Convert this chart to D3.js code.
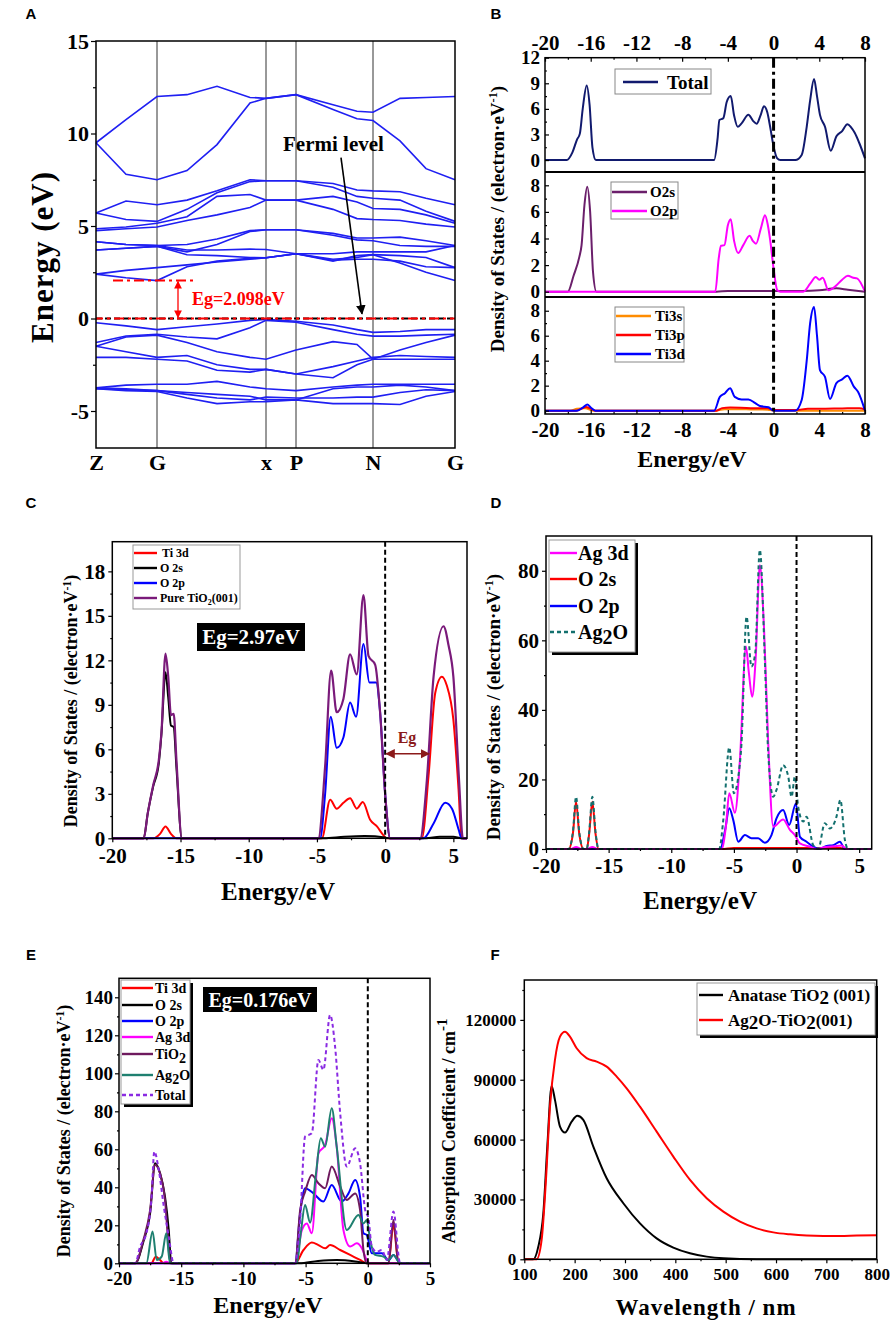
<!DOCTYPE html>
<html><head><meta charset="utf-8">
<script src="https://cdn.jsdelivr.net/npm/d3@7"></script>
<style>body{margin:0;background:#fff}svg{display:block}</style>
</head><body><svg id="c" width="893" height="1324"></svg>
<script>
// ---------------- DATA ----------------
// Panel A: band structure
const aK = [0, 30, 61, 91, 121, 154, 170, 200, 237, 261, 277, 304, 330, 359];
const aSymK = [0, 61, 170, 200, 277, 359];
const aSymLabels = ["Z", "G", "x", "P", "N", "G"];
const aTicks = [-5, 0, 5, 10, 15];
const aMinor = [-2.5, 2.5, 7.5, 12.5];
const aBandsCB = [
  [9.5, 10.75, 12.0, 12.1, 12.55, 11.95, 11.9, 12.1, 11.55, 11.2, 11.15, 11.9, 11.95, 12.0],
  [9.5, 7.8, 7.5, 8.0, 9.4, 11.65, 11.9, 12.1, 11.3, 10.8, 10.7, 9.6, 8.1, 7.5],
  [5.7, 6.35, 6.15, 6.4, 6.9, 7.5, 7.45, 7.45, 7.3, 6.95, 6.9, 6.85, 6.5, 6.15],
  [5.7, 5.35, 5.25, 5.9, 6.8, 7.4, 7.45, 7.45, 7.1, 6.6, 6.5, 6.4, 5.8, 5.25],
  [4.85, 4.95, 5.15, 5.5, 6.6, 6.7, 6.4, 6.4, 6.6, 6.3, 5.95, 5.9, 5.6, 5.15],
  [4.75, 4.85, 4.95, 5.3, 5.6, 6.0, 6.4, 6.4, 5.9, 5.4, 5.35, 5.3, 5.1, 4.95],
  [4.15, 4.0, 3.95, 4.0, 4.3, 4.75, 4.8, 4.8, 4.6, 4.35, 4.35, 4.4, 4.2, 3.95],
  [3.7, 3.8, 3.9, 3.6, 4.0, 4.7, 4.8, 4.8, 4.5, 4.25, 4.2, 3.95, 3.9, 3.9],
  [4.15, 4.0, 3.95, 3.7, 3.7, 3.75, 3.73, 3.5, 3.5, 3.6, 3.6, 3.6, 3.6, 3.95],
  [3.7, 3.8, 3.9, 3.45, 3.4, 3.3, 3.28, 3.5, 3.1, 3.4, 3.45, 3.4, 3.3, 2.75],
  [2.4, 2.6, 2.75, 2.9, 3.05, 3.2, 3.28, 3.5, 3.15, 3.2, 3.2, 3.1, 2.8, 2.75],
  [2.4, 2.2, 2.05, 2.8, 3.1, 3.25, 3.28, 3.5, 3.2, 3.3, 3.45, 3.0, 2.5, 2.05]
];
const aBandsVB = [
  [-0.23, -0.4, -0.6, -0.45, -0.3, -0.1, -0.05, -0.15, -0.35, -0.6, -0.75, -0.7, -0.6, -0.6],
  [-1.3, -0.95, -0.85, -1.0, -1.1, -0.5, -0.1, -0.2, -0.6, -0.85, -0.95, -0.95, -0.9, -0.85],
  [-1.5, -1.0, -0.9, -1.3, -1.8, -2.1, -2.2, -1.7, -1.25, -1.4, -2.2, -1.7, -1.3, -0.9],
  [-1.5, -1.8, -2.1, -2.0, -2.5, -2.75, -2.75, -3.0, -2.6, -2.3, -2.1, -2.0, -2.05, -2.1],
  [-2.1, -2.1, -2.2, -2.3, -2.8, -2.9, -2.75, -3.0, -3.2, -2.5, -2.2, -2.2, -2.2, -2.2],
  [-3.75, -3.6, -3.55, -3.55, -3.4, -3.7, -3.8, -3.9, -3.7, -3.6, -3.55, -3.55, -3.55, -3.55],
  [-3.8, -3.85, -3.9, -4.1, -4.3, -4.4, -4.25, -4.3, -4.3, -4.25, -4.25, -4.0, -3.85, -3.9],
  [-3.8, -3.9, -3.95, -4.3, -4.6, -4.5, -4.5, -4.4, -4.6, -4.6, -4.6, -4.65, -4.2, -3.95],
  [-3.75, -3.8, -3.9, -4.0, -4.1, -4.2, -4.4, -4.4, -3.8, -3.7, -3.7, -3.6, -3.7, -3.9]
];
const aEgValue = 2.05;
const aEgSpanK = [17, 99];
const aEgArrowK = 82;
const aFermiArrow = [[245, 8.7], [266, 0.25]];

// Panel B: DOS (three stacked)
const bXTicks = [-20, -16, -12, -8, -4, 0, 4, 8];
const bXMinor = [-18, -14, -10, -6, -2, 2, 6];
const bY1Ticks = [0, 3, 6, 9, 12];
const bY1Minor = [1.5, 4.5, 7.5, 10.5];
const bY23Ticks = [0, 2, 4, 6, 8];
const bY23Minor = [1, 3, 5, 7];
const bTotal = [[-20,0],[-18.1,0],[-17.6,0.9],[-17.2,2.4],[-16.95,3.1],[-16.7,6.0],[-16.35,8.75],[-16.1,6.5],[-15.85,1.5],[-15.55,0],[-5.2,0],[-4.9,2.5],[-4.74,4.7],[-4.4,4.9],[-4.1,6.8],[-3.75,7.5],[-3.45,5.2],[-3.14,3.9],[-2.8,4.3],[-2.2,5.3],[-1.8,4.6],[-1.48,4.25],[-1.15,5.2],[-0.84,6.3],[-0.55,5.6],[-0.3,3.9],[0,1.6],[0.3,0.23],[0.6,0],[1.9,0],[2.46,0.6],[2.9,3.9],[3.2,7.0],[3.54,9.5],[3.8,7.5],[4.06,5.3],[4.5,3.9],[5.0,1.1],[5.5,2.8],[6.0,3.4],[6.46,4.2],[6.8,3.8],[7.1,3.2],[7.5,2.0],[8,0.2]];
const bO2s = [[-20,0],[-18.0,0],[-17.5,1.2],[-17.0,2.6],[-16.8,3.5],[-16.55,6.5],[-16.3,7.9],[-16.05,6.0],[-15.8,1.5],[-15.5,0],[-5,0],[-4,0.05],[0,0.05],[2.5,0.05],[4,0.1],[5.5,0.25],[6.5,0.15],[8,0]];
const bO2p = [[-20,0],[-5.1,0],[-4.8,2.5],[-4.6,3.45],[-4.3,3.5],[-4.0,5.0],[-3.75,5.45],[-3.45,3.8],[-3.1,2.9],[-2.65,3.5],[-2.1,4.2],[-1.8,3.8],[-1.54,3.6],[-1.1,4.8],[-0.75,5.75],[-0.5,5.0],[-0.3,3.9],[0,1.75],[0.33,0.1],[0.6,0],[2.6,0],[3.2,0.6],[3.7,1.1],[4.0,0.9],[4.3,1.05],[4.8,0.1],[5.4,0.4],[6.0,0.9],[6.5,1.2],[6.98,1.05],[7.3,1.0],[8,0]];
const bTi3s = [[-20,0],[-17.8,0],[-17.2,0.15],[-16.5,0.2],[-15.8,0],[-5,0],[-4.3,0.12],[-2,0.1],[-0.5,0.08],[0,0],[8,0]];
const bTi3p = [[-20,0],[-17.3,0],[-16.4,0.3],[-15.6,0],[-5,0],[-4.5,0.2],[-3.8,0.25],[-2,0.2],[-0.5,0.2],[0,0.05],[2,0.05],[3,0.15],[4,0.15],[6,0.18],[7.5,0.2],[8,0.1]];
const bTi3d = [[-20,0],[-17.2,0],[-16.6,0.3],[-16.3,0.5],[-16.0,0.25],[-15.6,0],[-5.2,0],[-4.7,1.1],[-4.25,1.4],[-3.8,1.8],[-3.4,1.1],[-2.8,0.9],[-2.2,0.9],[-1.6,0.6],[-1.2,0.37],[-0.45,0.27],[0,0],[1.9,0],[2.46,0.85],[2.9,4.0],[3.2,7.0],[3.54,8.3],[3.8,6.0],[4.06,3.25],[4.5,2.7],[4.94,0.93],[5.5,2.2],[6.0,2.5],[6.46,2.8],[7.04,1.9],[7.4,1.5],[8,0]];

// Panel C: pure TiO2(001)
const cXTicks = [-20, -15, -10, -5, 0, 5];
const cXMinor = [-17.5, -12.5, -7.5, -2.5, 2.5];
const cYTicks = [0, 3, 6, 9, 12, 15, 18];
const cYMinor = [1.5, 4.5, 7.5, 10.5, 13.5, 16.5];
const cTi3d = [[-20,0],[-17.0,0],[-16.5,0.3],[-16.1,0.8],[-15.7,0.3],[-15.3,0],[-4.64,0],[-4.03,2.6],[-3.55,2.0],[-3.06,2.4],[-2.57,2.7],[-2.08,2.0],[-1.64,2.45],[-1.1,1.25],[-0.6,0.8],[-0.12,0.2],[0.12,0],[2.69,0],[3.18,4.2],[3.67,9.8],[4.16,10.9],[4.52,10.3],[5.0,8.0],[5.38,3.3],[5.6,0],[6,0]];
const cO2s = [[-20,0],[-17.7,0],[-17.4,1.7],[-17.0,3.5],[-16.6,5.0],[-16.4,7.0],[-16.1,11.2],[-15.9,9.5],[-15.7,7.6],[-15.5,7.5],[-15.3,4.8],[-14.9,0],[-4.5,0],[-3,0.1],[-1.5,0.15],[0,0.05],[0.3,0],[3,0],[4,0.1],[5,0.1],[5.6,0],[6,0]];
const cO2p = [[-20,0],[-4.77,0],[-4.4,3.0],[-3.99,8.2],[-3.55,6.1],[-3.06,6.8],[-2.57,9.15],[-2.13,8.2],[-1.59,13.1],[-1.15,10.5],[-0.66,10.5],[-0.37,8.5],[0,3.0],[0.37,0],[2.8,0],[3.55,1.0],[4.4,2.4],[4.9,2.0],[5.4,0.55],[5.6,0],[6,0]];
const cTotal = [[-20,0],[-17.7,0],[-17.4,1.7],[-17.0,3.6],[-16.6,5.2],[-16.4,7.1],[-16.1,12.45],[-15.9,10.9],[-15.7,8.3],[-15.5,8.4],[-15.3,5.3],[-14.9,0],[-4.9,0],[-4.4,4.85],[-3.96,11.3],[-3.55,8.5],[-3.06,9.4],[-2.57,12.4],[-2.08,11.05],[-1.59,16.4],[-1.22,12.3],[-0.73,11.7],[-0.37,8.5],[0,3.0],[0.37,0],[2.57,0],[3.06,3.95],[3.55,10.9],[4.28,14.3],[4.65,13.0],[5.0,10.9],[5.4,4.2],[5.7,0],[6,0]];
const cEgSpan = [0, 3.3];
const cEgLevel = 5.7;

// Panel D: Ag2O
const dYTicks = [0, 20, 40, 60, 80];
const dYMinor = [10, 30, 50, 70];
const dAg3d = [[-20,0],[-18,0],[-17.6,0.6],[-17.2,0],[-16.7,0],[-16.3,0.6],[-15.9,0],[-5.98,0],[-5.64,6.4],[-5.37,16],[-4.92,10.4],[-4.52,25.6],[-4.04,58.2],[-3.8,50.5],[-3.54,43.8],[-3.27,54.3],[-2.93,81.6],[-2.6,63.9],[-2.26,30.4],[-1.86,6.4],[-1.07,8.5],[-0.53,5.5],[-0.13,4.0],[0.27,1.6],[1.06,0.7],[1.6,0],[2.3,0.6],[3.0,0.8],[3.6,1.0],[4.0,0],[6,0]];
const dO2s = [[-20,0],[-18.2,0],[-17.85,4.5],[-17.6,13.6],[-17.35,4.5],[-17.0,0],[-16.75,0],[-16.55,4.5],[-16.3,13.6],[-16.05,4.5],[-15.8,0],[-6,0],[-5,0.3],[-2,0.3],[0,0.3],[2,0.3],[3.5,0.3],[4,0],[6,0]];
const dO2p = [[-20,0],[-6.1,0],[-5.7,5.5],[-5.37,11.7],[-5.05,8.3],[-4.65,2.1],[-4.12,4.0],[-3.6,3.1],[-3.06,3.1],[-2.53,1.8],[-2.0,4.0],[-1.6,8.8],[-1.07,11.2],[-0.59,6.9],[-0.05,13.1],[0.27,3.5],[0.8,2.1],[1.33,0.7],[1.86,0],[2.4,0.9],[2.93,1.1],[3.46,2.1],[3.86,0],[6,0]];
const dAg2O = [[-20,0],[-18.2,0],[-17.85,5],[-17.6,15],[-17.35,5],[-17.0,0],[-16.75,0],[-16.55,5],[-16.3,15],[-16.05,5],[-15.8,0],[-6.17,0],[-5.85,8.3],[-5.37,29.2],[-5.0,16],[-4.65,20.8],[-4.4,30],[-3.99,66.8],[-3.6,52.4],[-3.3,56.2],[-2.93,86],[-2.53,54.3],[-2.26,27.5],[-1.86,15],[-1.6,17],[-1.07,24.1],[-0.66,20.8],[-0.4,15],[-0.13,20.8],[0.13,12.2],[0.53,7.9],[0.8,9.3],[1.33,1.1],[1.73,0],[2.26,7.4],[2.66,5.9],[3.19,9.3],[3.5,14.1],[3.86,2.6],[4.12,0],[6,0]];

// Panel E: Ag2O-TiO2
const eXTicks = [-20, -15, -10, -5, 0, 5];
const eYTicks = [0, 20, 40, 60, 80, 100, 120, 140];
const eYMinor = [10, 30, 50, 70, 90, 110, 130];
const eTi3d = [[-20,0],[-17.4,0],[-17.05,3.5],[-16.7,1.75],[-16.4,0],[-5.84,0],[-5.17,7.0],[-4.5,10.9],[-3.97,9.6],[-3.43,7.9],[-3.03,9.6],[-2.22,7.0],[-1.42,4.4],[-0.62,1.75],[-0.08,0],[1.66,0],[2.06,20.2],[2.47,0],[5,0]];
const eO2s = [[-20,0],[-18.7,0],[-18.04,11.4],[-17.5,26.3],[-17.1,52.6],[-16.7,47.4],[-16.3,35],[-16.0,17.5],[-15.8,0],[-5.5,0],[-4,1.2],[-2.5,1.75],[-1,1.0],[0,0],[5,0]];
const eO2p = [[-20,0],[-5.84,0],[-5.44,26.3],[-5.04,39.5],[-4.37,36.8],[-3.57,32.5],[-2.9,41.2],[-2.1,32.5],[-1.55,36.8],[-1.02,43.9],[-0.62,35],[-0.35,15.8],[-0.08,14.9],[0.32,5.3],[1.13,5.3],[1.66,1.5],[2.06,4.4],[2.6,0],[5,0]];
const eAg3d = [[-20,0],[-16.6,0],[-16.2,0.8],[-15.8,0],[-5.84,0],[-5.3,17.5],[-4.9,21],[-4.5,15.8],[-3.97,57.9],[-3.43,62.3],[-2.9,76.3],[-2.5,61.4],[-1.96,17.5],[-1.42,8.8],[-0.89,10.5],[-0.48,7.9],[-0.08,1.75],[0.19,0],[5,0]];
const eTiO2 = [[-20,0],[-18.7,0],[-18.04,12.3],[-17.5,28],[-17.1,51.8],[-16.7,47.4],[-16.3,33.3],[-15.9,1.75],[-15.7,0],[-5.84,0],[-5.44,28],[-5.04,37.7],[-4.5,46.5],[-3.97,42.1],[-3.43,39.5],[-2.9,50.9],[-2.22,40.4],[-1.69,33.3],[-1.02,36.8],[-0.62,28],[-0.35,7.0],[-0.08,0],[1.66,0],[2.06,22.8],[2.47,0],[5,0]];
const eAg2O = [[-20,0],[-17.8,0],[-17.3,16.7],[-16.97,1.75],[-16.57,3.5],[-16.2,15.8],[-15.9,0],[-5.7,0],[-5.39,15.8],[-5.04,30.7],[-4.64,21.4],[-4.16,47.4],[-3.78,65.8],[-3.43,61.4],[-2.9,81.6],[-2.5,61.4],[-1.69,17.5],[-0.75,25.4],[-0.35,21],[-0.08,22.8],[0.19,12.3],[0.59,4.4],[1.26,3.5],[1.66,1.75],[2.06,4.4],[2.6,0],[5,0]];
const eTotal = [[-20,0],[-18.7,0],[-18.3,8.8],[-17.8,15.8],[-17.4,33],[-17.16,58.8],[-16.8,49],[-16.4,30],[-16.0,14],[-15.6,0],[-5.84,0],[-5.44,22.8],[-5.04,66.7],[-4.5,68.4],[-3.97,107],[-3.57,101.8],[-3.03,130.7],[-2.63,114],[-2.22,79],[-1.69,50.9],[-1.02,60.5],[-0.62,52.6],[-0.21,28],[0.05,23.7],[0.32,8.8],[0.72,6.1],[1.13,7.0],[1.53,1.75],[2.06,27.2],[2.6,0],[5,0]];

// Panel F: absorption
const fXTicks = [100, 200, 300, 400, 500, 600, 700, 800];
const fXMinor = [150, 250, 350, 450, 550, 650, 750];
const fYTicks = [0, 30000, 60000, 90000, 120000];
const fYMinor = [15000, 45000, 75000, 105000, 135000];
const fAnatase = [[100,0],[117.9,0],[127.8,6350],[137.8,23000],[145.7,56500],[154.3,86900],[160.9,79900],[170.9,66500],[180.8,63500],[194,69000],[205.3,71900],[217.2,69900],[237.1,56500],[263.6,40600],[296.7,28100],[329.8,18000],[362.9,10500],[396,5850],[429,3000],[462.3,1340],[495.4,500],[561.6,0],[800,0]];
const fAg2OTiO2 = [[100,0],[124.5,0],[134.4,9700],[143,39800],[151,76500],[160.9,100000],[170.9,111600],[180.8,114100],[190.7,111600],[204,105800],[223.8,100800],[243.7,99100],[263.6,96600],[283.5,91600],[303.3,85700],[329.8,76500],[362.9,64000],[396,51500],[429.2,39800],[462.3,30600],[495.4,23900],[528.5,18900],[561.6,15500],[594.7,13500],[627.8,12500],[660.9,11900],[694,11700],[727.2,11700],[760.3,11900],[800,12000]];

// ---------------- DRAWING ----------------
const SERIF = "'Liberation Serif','Times New Roman',serif";
const SANS = "'Liberation Sans',Arial,sans-serif";
const svg = d3.select("#c");
const defs = svg.append("defs");
function marker(id, color, orient) {
  defs.append("marker").attr("id", id).attr("viewBox", "0 0 10 10").attr("refX", 9).attr("refY", 5)
    .attr("markerWidth", 6).attr("markerHeight", 6).attr("orient", orient)
    .append("path").attr("d", "M0,0 L10,5 L0,10 z").attr("fill", color);
}
marker("arrR", "#ff0000", "auto-start-reverse");
marker("arrK", "#000", "auto");
marker("arrD", "#8b1a1a", "auto-start-reverse");

function frame(x0, y0, x1, y1) {
  svg.append("rect").attr("x", x0).attr("y", y0).attr("width", x1 - x0).attr("height", y1 - y0)
    .attr("fill", "none").attr("stroke", "#000").attr("stroke-width", 1.5);
}
function addAxis(axis, tx, ty, fs) {
  const g = svg.append("g").attr("transform", `translate(${tx},${ty})`).call(axis);
  g.select(".domain").remove();
  g.selectAll("line").attr("stroke", "#000").attr("stroke-width", 1.2);
  g.selectAll("text").attr("font-family", SERIF).attr("font-weight", "bold").attr("font-size", fs).attr("fill", "#000");
  return g;
}
const fmt = d => String(d);
function text(x, y, str, fs, opts = {}) {
  const t = svg.append("text").attr("x", x).attr("y", y).attr("font-family", opts.family || SERIF)
    .attr("font-weight", "bold").attr("font-size", fs).attr("fill", opts.fill || "#000")
    .attr("text-anchor", opts.anchor || "start");
  if (opts.ls) t.attr("letter-spacing", opts.ls);
  t.text(str);
  return t;
}
function dosLabel(cx, cy, fs) {
  const t = svg.append("text").attr("transform", `translate(${cx},${cy}) rotate(-90)`)
    .attr("font-family", SERIF).attr("font-weight", "bold").attr("font-size", fs).attr("text-anchor", "middle");
  t.append("tspan").text("Density of States / (electron\u00b7eV");
  t.append("tspan").attr("baseline-shift", "super").attr("font-size", fs * 0.65).text("-1");
  t.append("tspan").text(")");
}
function curve(xs, ys, data, color, w, dash) {
  const gen = d3.line().x(d => xs(d[0])).y(d => ys(d[1])).curve(d3.curveMonotoneX);
  const p = svg.append("path").datum(data).attr("d", gen).attr("fill", "none").attr("stroke", color)
    .attr("stroke-width", w).attr("stroke-linejoin", "round");
  if (dash) p.attr("stroke-dasharray", dash);
  return p;
}
function legendBox(x0, y0, x1, y1, shadow, stroke) {
  if (shadow) svg.append("rect").attr("x", x0 + 3).attr("y", y0 + 3).attr("width", x1 - x0).attr("height", y1 - y0).attr("fill", "#000");
  svg.append("rect").attr("x", x0).attr("y", y0).attr("width", x1 - x0).attr("height", y1 - y0)
    .attr("fill", "#fff").attr("stroke", stroke || "#999").attr("stroke-width", 1);
}
function legendItem(x0, x1, tx, y, color, label, fs, dash, sub) {
  const l = svg.append("line").attr("x1", x0).attr("x2", x1).attr("y1", y).attr("y2", y).attr("stroke", color).attr("stroke-width", 2.4);
  if (dash) l.attr("stroke-dasharray", dash);
  const t = svg.append("text").attr("x", tx).attr("y", y + fs * 0.35).attr("font-family", SERIF)
    .attr("font-weight", "bold").attr("font-size", fs).attr("fill", "#000");
  if (Array.isArray(label)) {
    label.forEach(part => {
      const s = t.append("tspan").text(part.t);
      if (part.sub) s.attr("dy", part.sub).attr("font-size", part.fs || fs);
    });
  } else t.text(label);
}
function panelLetter(x, y, s) { text(x, y, s, 15, { family: SANS, anchor: "middle" }); }

// ===== Panel A =====
panelLetter(31, 19, "A");
const xA = d3.scaleLinear().domain([0, 359]).range([96, 455]);
const yA = d3.scaleLinear().domain([-7, 15]).range([448, 41]);
svg.append("g").selectAll("line").data(aSymK.slice(1, -1)).join("line")
  .attr("x1", d => xA(d)).attr("x2", d => xA(d)).attr("y1", yA(15)).attr("y2", yA(-7))
  .attr("stroke", "#333").attr("stroke-width", 1);
const bandLine = d3.line().x((d, i) => xA(aK[i])).y(d => yA(d));
svg.append("g").selectAll("path").data(aBandsCB.concat(aBandsVB)).join("path")
  .attr("d", bandLine).attr("fill", "none").attr("stroke", "#1f1ff2").attr("stroke-width", 1.6);
// Fermi level
svg.append("line").attr("x1", xA(0)).attr("x2", xA(359)).attr("y1", yA(0)).attr("y2", yA(0))
  .attr("stroke", "#000").attr("stroke-width", 2).attr("stroke-dasharray", "6,3");
svg.append("line").attr("x1", xA(0)).attr("x2", xA(359)).attr("y1", yA(0)).attr("y2", yA(0))
  .attr("stroke", "#ff0000").attr("stroke-width", 2).attr("stroke-dasharray", "10,4,3,4").attr("stroke-dashoffset", 3);
svg.append("line").attr("x1", xA(aEgSpanK[0])).attr("x2", xA(aEgSpanK[1])).attr("y1", yA(aEgValue)).attr("y2", yA(aEgValue))
  .attr("stroke", "#ff0000").attr("stroke-width", 2).attr("stroke-dasharray", "10,4,3,4");
svg.append("line").attr("x1", xA(aEgArrowK)).attr("x2", xA(aEgArrowK)).attr("y1", yA(aEgValue) + 1).attr("y2", yA(0) - 1)
  .attr("stroke", "#ff0000").attr("stroke-width", 1.3).attr("marker-start", "url(#arrR)").attr("marker-end", "url(#arrR)");
text(xA(96), yA(0.73), "Eg=2.098eV", 18, { fill: "#ff0000" });
text(xA(187), yA(9.05), "Fermi level", 21);
svg.append("line").attr("x1", xA(aFermiArrow[0][0])).attr("y1", yA(aFermiArrow[0][1]))
  .attr("x2", xA(aFermiArrow[1][0])).attr("y2", yA(aFermiArrow[1][1]))
  .attr("stroke", "#000").attr("stroke-width", 1.6).attr("marker-end", "url(#arrK)");
frame(96, 41, 455, 448);
addAxis(d3.axisLeft(yA).tickValues(aTicks).tickFormat(fmt).tickSize(5).tickPadding(2), 96, 0, 22);
addAxis(d3.axisLeft(yA).tickValues(aMinor).tickFormat("").tickSize(3), 96, 0, 22);
addAxis(d3.axisBottom(xA).tickValues(aSymK).tickFormat((d, i) => aSymLabels[i]).tickSize(0).tickPadding(6), 0, 448, 22);
svg.append("text").attr("transform", "translate(53,257) rotate(-90)").attr("text-anchor", "middle")
  .attr("font-family", SERIF).attr("font-weight", "bold").attr("font-size", 31).attr("letter-spacing", 1).text("Energy (eV)");

// ===== Panel B =====
panelLetter(496, 19, "B");
const xB = d3.scaleLinear().domain([-20, 8]).range([545, 865]);
const yB1 = d3.scaleLinear().domain([-1.4, 12]).range([172, 57.7]);
const yB2 = d3.scaleLinear().domain([-0.4, 9]).range([297, 172]);
const yB3 = d3.scaleLinear().domain([-0.27, 9.1]).range([414, 297]);
curve(xB, yB1, bTotal, "#111a6e", 2);
curve(xB, yB2, bO2s, "#6b1f6b", 2);
curve(xB, yB2, bO2p, "#ff00ff", 2);
curve(xB, yB3, bTi3s, "#ff8c00", 2);
curve(xB, yB3, bTi3p, "#ff0000", 2);
curve(xB, yB3, bTi3d, "#0000ff", 2);
svg.append("line").attr("x1", xB(0)).attr("x2", xB(0)).attr("y1", 57.7).attr("y2", 414)
  .attr("stroke", "#000").attr("stroke-width", 3).attr("stroke-dasharray", "10,4,3,4");
frame(545, 57.7, 865, 414);
svg.append("line").attr("x1", 545).attr("x2", 865).attr("y1", 172).attr("y2", 172).attr("stroke", "#000").attr("stroke-width", 2);
svg.append("line").attr("x1", 545).attr("x2", 865).attr("y1", 297).attr("y2", 297).attr("stroke", "#000").attr("stroke-width", 2);
addAxis(d3.axisTop(xB).tickValues(bXTicks).tickFormat(fmt).tickSize(-4).tickPadding(8), 0, 57.7, 21);
addAxis(d3.axisTop(xB).tickValues(bXMinor).tickFormat("").tickSize(-2), 0, 57.7, 21);
addAxis(d3.axisBottom(xB).tickValues(bXTicks).tickFormat(fmt).tickSize(-4).tickPadding(8), 0, 414, 21);
addAxis(d3.axisBottom(xB).tickValues(bXMinor).tickFormat("").tickSize(-2), 0, 414, 21);
[[yB1, bY1Ticks, bY1Minor], [yB2, bY23Ticks, bY23Minor], [yB3, bY23Ticks, bY23Minor]].forEach(([ys, tk, mn]) => {
  addAxis(d3.axisLeft(ys).tickValues(tk).tickFormat(fmt).tickSize(-4).tickPadding(5), 545, 0, 19);
  addAxis(d3.axisLeft(ys).tickValues(mn).tickFormat("").tickSize(-2), 545, 0, 19);
});
legendBox(615, 69, 711, 94, false, "#888");
legendItem(623, 658, 667, 82, "#111a6e", "Total", 19);
legendBox(611, 182, 678, 219, false, "#888");
legendItem(612, 647, 650, 192, "#6b1f6b", "O2s", 15);
legendItem(612, 647, 650, 211, "#ff00ff", "O2p", 15);
legendBox(615, 307, 684, 362, false, "#888");
legendItem(616, 651, 655, 316, "#ff8c00", "Ti3s", 15);
legendItem(616, 651, 655, 335, "#ff0000", "Ti3p", 15);
legendItem(616, 651, 655, 354, "#0000ff", "Ti3d", 15);
dosLabel(504, 219, 19);
text(692, 467, "Energy/eV", 24, { anchor: "middle" });

// ===== Panel C =====
panelLetter(31, 508, "C");
const xC = d3.scaleLinear().domain([-20, 6]).range([112.3, 467]);
const yC = d3.scaleLinear().domain([0, 20]).range([838.3, 541.7]);
curve(xC, yC, cTi3d, "#ff0000", 2);
curve(xC, yC, cO2s, "#000", 2);
curve(xC, yC, cO2p, "#0000ff", 2);
curve(xC, yC, cTotal, "#7a1a7a", 2.2);
svg.append("line").attr("x1", xC(0)).attr("x2", xC(0)).attr("y1", 541.7).attr("y2", 838.3)
  .attr("stroke", "#000").attr("stroke-width", 2).attr("stroke-dasharray", "5,3");
svg.append("line").attr("x1", xC(cEgSpan[0]) + 1).attr("x2", xC(cEgSpan[1]) - 1).attr("y1", yC(cEgLevel)).attr("y2", yC(cEgLevel))
  .attr("stroke", "#8b1a1a").attr("stroke-width", 1.6).attr("marker-start", "url(#arrD)").attr("marker-end", "url(#arrD)");
text(xC(1.6), yC(6.4), "Eg", 16, { fill: "#8b1a1a", anchor: "middle" });
frame(112.3, 541.7, 467, 838.3);
addAxis(d3.axisBottom(xC).tickValues(cXTicks).tickFormat(fmt).tickSize(4).tickPadding(6), 0, 838.3, 21);
addAxis(d3.axisBottom(xC).tickValues(cXMinor).tickFormat("").tickSize(2), 0, 838.3, 21);
addAxis(d3.axisLeft(yC).tickValues(cYTicks).tickFormat(fmt).tickSize(4).tickPadding(3), 112.3, 0, 21);
addAxis(d3.axisLeft(yC).tickValues(cYMinor).tickFormat("").tickSize(2), 112.3, 0, 21);
legendBox(133, 545, 240, 609, false, "#999");
legendItem(134, 157, 162, 553, "#ff0000", "Ti 3d", 12);
legendItem(134, 157, 160, 568, "#000", "O 2s", 12);
legendItem(134, 157, 160, 583, "#0000ff", "O 2p", 12);
legendItem(134, 157, 160, 598, "#7a1a7a", [{ t: "Pure TiO" }, { t: "2", sub: 3, fs: 8 }, { t: "(001)", sub: -3, fs: 12 }], 12);
svg.append("rect").attr("x", 197).attr("y", 623).attr("width", 108).attr("height", 28).attr("fill", "#000");
text(251, 644, "Eg=2.97eV", 21, { fill: "#fff", anchor: "middle" });
dosLabel(77, 701, 18);
text(278, 900, "Energy/eV", 25, { anchor: "middle" });

// ===== Panel D =====
panelLetter(496, 508, "D");
const xD = d3.scaleLinear().domain([-20, 6]).range([546, 871.7]);
const yD = d3.scaleLinear().domain([0, 90]).range([849, 536]);
curve(xD, yD, dO2s, "#ff0000", 2);
curve(xD, yD, dO2p, "#0000ff", 2);
curve(xD, yD, dAg3d, "#ff00ff", 2);
curve(xD, yD, dAg2O, "#13706e", 2, "4,3");
svg.append("line").attr("x1", xD(0)).attr("x2", xD(0)).attr("y1", 536).attr("y2", 849)
  .attr("stroke", "#000").attr("stroke-width", 2).attr("stroke-dasharray", "5,3");
frame(546, 536, 871.7, 849);
addAxis(d3.axisBottom(xD).tickValues(cXTicks).tickFormat(fmt).tickSize(4).tickPadding(5), 0, 849, 21);
addAxis(d3.axisBottom(xD).tickValues(cXMinor).tickFormat("").tickSize(2), 0, 849, 21);
addAxis(d3.axisLeft(yD).tickValues(dYTicks).tickFormat(fmt).tickSize(4).tickPadding(3), 546, 0, 21);
addAxis(d3.axisLeft(yD).tickValues(dYMinor).tickFormat("").tickSize(2), 546, 0, 21);
legendBox(549, 540, 635, 652, true, "#999");
legendItem(550, 577, 578, 553, "#ff00ff", "Ag 3d", 20);
legendItem(550, 577, 578, 579, "#ff0000", "O 2s", 20);
legendItem(550, 577, 578, 606, "#0000ff", "O 2p", 20);
legendItem(550, 577, 578, 632, "#13706e", [{ t: "Ag" }, { t: "2", sub: 5, fs: 20 }, { t: "O", sub: -5, fs: 20 }], 20, "4,3");
dosLabel(500, 707, 19);
text(700, 909, "Energy/eV", 25, { anchor: "middle" });

// ===== Panel E =====
panelLetter(31, 960, "E");
const xE = d3.scaleLinear().domain([-20, 5]).range([119, 430]);
const yE = d3.scaleLinear().domain([0, 150]).range([1263.3, 978.3]);
curve(xE, yE, eTi3d, "#ff0000", 2);
curve(xE, yE, eO2s, "#000", 2);
curve(xE, yE, eO2p, "#0000ff", 2);
curve(xE, yE, eAg3d, "#ff00ff", 2);
curve(xE, yE, eTiO2, "#6e1a5e", 2);
curve(xE, yE, eAg2O, "#1f8070", 2);
curve(xE, yE, eTotal, "#8a2be2", 2, "4,3");
svg.append("line").attr("x1", xE(0)).attr("x2", xE(0)).attr("y1", 978.3).attr("y2", 1263.3)
  .attr("stroke", "#000").attr("stroke-width", 2).attr("stroke-dasharray", "5,3");
frame(119, 978.3, 430, 1263.3);
addAxis(d3.axisBottom(xE).tickValues(eXTicks).tickFormat(fmt).tickSize(4).tickPadding(4), 0, 1263.3, 19);
addAxis(d3.axisBottom(xE).tickValues(cXMinor).tickFormat("").tickSize(2), 0, 1263.3, 19);
addAxis(d3.axisLeft(yE).tickValues(eYTicks).tickFormat(fmt).tickSize(4).tickPadding(2), 119, 0, 19);
addAxis(d3.axisLeft(yE).tickValues(eYMinor).tickFormat("").tickSize(2), 119, 0, 19);
legendBox(121, 980, 190, 1104, true, "#999");
legendItem(122, 153, 155, 988, "#ff0000", "Ti 3d", 14);
legendItem(122, 153, 155, 1005, "#000", "O 2s", 14);
legendItem(122, 153, 155, 1021, "#0000ff", "O 2p", 14);
legendItem(122, 153, 155, 1037, "#ff00ff", "Ag 3d", 14);
legendItem(122, 153, 155, 1054, "#6e1a5e", [{ t: "TiO" }, { t: "2", sub: 4, fs: 14 }], 14);
legendItem(122, 153, 155, 1075, "#1f8070", [{ t: "Ag" }, { t: "2", sub: 4, fs: 14 }, { t: "O", sub: -4, fs: 14 }], 14);
legendItem(122, 153, 155, 1095, "#8a2be2", "Total", 14, "4,3");
svg.append("rect").attr("x", 203).attr("y", 987).attr("width", 114).attr("height", 25).attr("fill", "#000");
text(260, 1007, "Eg=0.176eV", 20, { fill: "#fff", anchor: "middle" });
dosLabel(70, 1131, 18);
text(268, 1313, "Energy/eV", 24, { anchor: "middle" });

// ===== Panel F =====
panelLetter(495, 960, "F");
const xF = d3.scaleLinear().domain([100, 800]).range([524.3, 876.7]);
const yF = d3.scaleLinear().domain([0, 140000]).range([1259.3, 980]);
curve(xF, yF, fAnatase, "#000", 2);
curve(xF, yF, fAg2OTiO2, "#ff0000", 2);
frame(524.3, 980, 876.7, 1259.3);
addAxis(d3.axisBottom(xF).tickValues(fXTicks).tickFormat(fmt).tickSize(4).tickPadding(5), 0, 1259.3, 17);
addAxis(d3.axisBottom(xF).tickValues(fXMinor).tickFormat("").tickSize(2), 0, 1259.3, 17);
addAxis(d3.axisLeft(yF).tickValues(fYTicks).tickFormat(fmt).tickSize(4).tickPadding(4), 524.3, 0, 17);
addAxis(d3.axisLeft(yF).tickValues(fYMinor).tickFormat("").tickSize(2), 524.3, 0, 17);
legendBox(697, 983, 875, 1035, true, "#999");
legendItem(699, 723, 728, 995, "#000", [{ t: "Anatase TiO" }, { t: "2", sub: 3, fs: 19 }, { t: " (001)", sub: -3, fs: 17 }], 17);
legendItem(699, 723, 728, 1020, "#ff0000", [{ t: "Ag" }, { t: "2", sub: 3, fs: 19 }, { t: "O-TiO", sub: -3, fs: 17 }, { t: "2", sub: 3, fs: 19 }, { t: "(001)", sub: -3, fs: 17 }], 17);
(function () {
  const t = svg.append("text").attr("transform", "translate(455,1131) rotate(-90)")
    .attr("font-family", SERIF).attr("font-weight", "bold").attr("font-size", 18).attr("text-anchor", "middle");
  t.append("tspan").text("Absorption Coefficient / cm");
  t.append("tspan").attr("baseline-shift", "super").attr("font-size", 15).text("-1");
})();
text(706, 1315, "Wavelength / nm", 23, { anchor: "middle", ls: 1 });
</script></body></html>
